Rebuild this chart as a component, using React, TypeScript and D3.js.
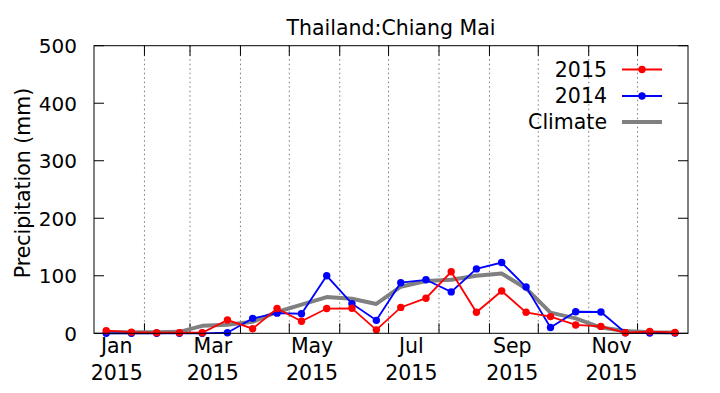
import React from "react";
import * as d3 from "d3";

const periods: string[] = [
  "2015-01a","2015-01b","2015-02a","2015-02b","2015-03a","2015-03b",
  "2015-04a","2015-04b","2015-05a","2015-05b","2015-06a","2015-06b",
  "2015-07a","2015-07b","2015-08a","2015-08b","2015-09a","2015-09b",
  "2015-10a","2015-10b","2015-11a","2015-11b","2015-12a","2015-12b",
];
const values2015: number[] = [4.5, 2, 1, 1, 1, 23, 8, 43, 21, 43, 43.5, 6, 45, 61, 107, 36.5, 73.5, 36.5, 29, 14.5, 12, 1, 3, 1.5];
const values2014: number[] = [0, 0, 0, 0, 0, 1, 26, 35, 34, 100, 51.5, 22.5, 88, 93, 72, 112, 123, 80.5, 10, 37.5, 37, 1, 0.5, 0.5];
const climate: number[] = [2, 2, 2, 2.5, 13, 15, 20, 37, 50, 63, 60, 51, 81, 91, 93, 100, 104, 78, 36, 26, 10, 4, 2, 1.5];
const yTicks: number[] = [0, 100, 200, 300, 400, 500];
const xLabelMonths: string[] = ["Jan", "Mar", "May", "Jul", "Sep", "Nov"];
const xLabelYear = "2015";
const title = "Thailand:Chiang Mai";
const yTitle = "Precipitation (mm)";
const legendNames: string[] = ["2015", "2014", "Climate"];

const FONT = "DejaVu Sans, sans-serif";
const L = 94, R = 688, T = 45.7, B = 333.3;

function periodDate(p: string): Date {
  const y = +p.slice(0, 4), m = +p.slice(5, 7) - 1, half = p.slice(7);
  const start = Date.UTC(y, m, 1);
  const end = Date.UTC(y, m + 1, 1);
  const mid = Date.UTC(y, m, 16);
  return half === "a" ? new Date((start + mid) / 2) : new Date((mid + end) / 2);
}

export default function App() {
  const x = d3.scaleUtc().domain([new Date(Date.UTC(2015, 0, 1)), new Date(Date.UTC(2016, 0, 1))]).range([L, R]);
  const y = d3.scaleLinear().domain([0, 500]).range([B, T]);
  const dates = periods.map(periodDate);
  const line = d3.line<number>().x((_, i) => x(dates[i])).y((v) => y(v));
  const monthTicks = d3.utcMonth.range(new Date(Date.UTC(2015, 1, 1)), new Date(Date.UTC(2016, 0, 1)));
  const monthIdx = ["Jan","Feb","Mar","Apr","May","Jun","Jul","Aug","Sep","Oct","Nov","Dec"];
  const labelDates = xLabelMonths.map((m) => new Date(Date.UTC(2015, monthIdx.indexOf(m), 15)));
  const series = [
    { name: legendNames[0], vals: values2015, color: "#ff0000" },
    { name: legendNames[1], vals: values2014, color: "#0000ff" },
  ];
  const legendY = [69.5, 96, 122];
  return (
    <svg width={720} height={393} style={{ position: "absolute", left: 0, top: 0, background: "#fff" }} fontFamily={FONT}>
      <rect width={720} height={393} fill="#fff" />
      {monthTicks.map((d, i) => (
        <g key={i}>
          <line x1={x(d)} x2={x(d)} y1={T} y2={B} stroke="#777" strokeWidth={1} strokeDasharray="1.5,3" />
          <line x1={x(d)} x2={x(d)} y1={B} y2={B - 10} stroke="#000" strokeWidth={1} />
          <line x1={x(d)} x2={x(d)} y1={T} y2={T + 10} stroke="#000" strokeWidth={1} />
        </g>
      ))}
      {yTicks.map((t) => (
        <g key={t}>
          <line x1={L} x2={L + 10} y1={y(t)} y2={y(t)} stroke="#000" strokeWidth={1} />
          <line x1={R} x2={R - 10} y1={y(t)} y2={y(t)} stroke="#000" strokeWidth={1} />
          <text x={77} y={y(t) + 7.3} textAnchor="end" fontSize={20}>{t}</text>
        </g>
      ))}
      <path d={line(climate) || ""} fill="none" stroke="#808080" strokeWidth={4} strokeLinejoin="round" />
      {[series[1], series[0]].map((s) => (
        <g key={s.name}>
          <path d={line(s.vals) || ""} fill="none" stroke={s.color} strokeWidth={1.8} />
          {s.vals.map((v, i) => (
            <circle key={i} cx={x(dates[i])} cy={y(v)} r={3.7} fill={s.color} />
          ))}
        </g>
      ))}
      <rect x={L} y={T} width={R - L} height={B - T} fill="none" stroke="#000" strokeWidth={1} />
      {labelDates.map((d, i) => (
        <g key={i}>
          <text x={x(d)} y={353} textAnchor="middle" fontSize={20.5}>{xLabelMonths[i]}</text>
          <text x={x(d)} y={379.5} textAnchor="middle" fontSize={20.5}>{xLabelYear}</text>
        </g>
      ))}
      <text x={(L + R) / 2} y={35} textAnchor="middle" fontSize={20.5}>{title}</text>
      <text transform={`translate(29.5,183) rotate(-90)`} textAnchor="middle" fontSize={20.5}>{yTitle}</text>
      {legendNames.map((n, i) => (
        <g key={n}>
          <text x={607} y={legendY[i] + 7.3} textAnchor="end" fontSize={20.5}>{n}</text>
          {i < 2 ? (
            <g>
              <line x1={622} x2={662} y1={legendY[i]} y2={legendY[i]} stroke={series[i].color} strokeWidth={1.8} />
              <circle cx={642} cy={legendY[i]} r={3.7} fill={series[i].color} />
            </g>
          ) : (
            <line x1={622} x2={662} y1={legendY[i]} y2={legendY[i]} stroke="#808080" strokeWidth={4} />
          )}
        </g>
      ))}
    </svg>
  );
}
